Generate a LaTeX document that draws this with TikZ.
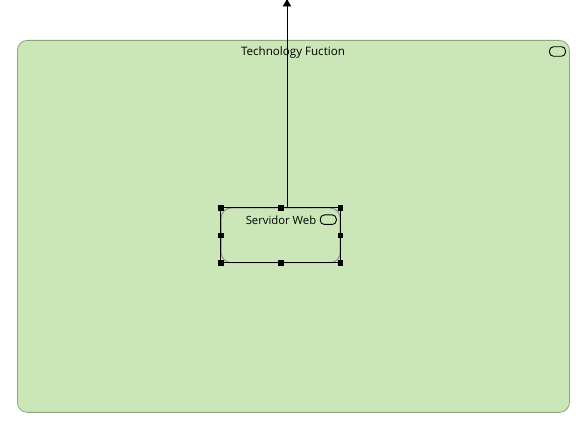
\documentclass[tikz,border=0pt]{standalone}
\usepackage{fontspec}
\setmainfont{Open Sans}
\usetikzlibrary{arrows.meta}
\definecolor{funcfill}{HTML}{CBE6B7}
\definecolor{funcline}{HTML}{8AA67A}
\tikzset{
  funcbox/.style={draw=funcline,fill=funcfill,line width=0.8pt,rounded corners=10pt,minimum width=552pt,minimum height=372pt,inner sep=0pt,anchor=north west},
  innerbox/.style={draw=black!45,fill=funcfill,line width=1pt,rounded corners=10pt,minimum width=119pt,minimum height=54.7pt,inner sep=0pt,anchor=north west},
  selframe/.style={minimum width=119pt,minimum height=54.7pt,inner sep=0pt,anchor=north west},
  handle/.style={draw=black,fill=black,minimum size=4.6pt,inner sep=0pt},
  pill/.style={draw=black,line width=0.9pt,rounded corners=4pt,minimum width=16pt,minimum height=9.5pt,inner sep=0pt},
  lbl/.style={font=\fontsize{11.6pt}{13pt}\selectfont,inner sep=0pt,text=black}
}
\begin{document}
\begin{tikzpicture}[x=1pt,y=-1pt]
\useasboundingbox (0,0) rectangle (576,435);
\fill[white] (0,0) rectangle (576,435);
\node[funcbox] (func) at (17,40) {};
\node[lbl] (functext) at (293,52.8) {Technology Fuction};
\node[pill] (funcpill) at (557.5,51.5) {};
\node[innerbox] (srv) at (220.7,207.5) {};
\node[lbl,font=\fontsize{11.3pt}{13pt}\selectfont] (srvtext) at (281,220.2) {Servidor Web};
\node[pill] (srvpill) at (328.3,219.7) {};
\node[selframe] (sel) at (220.7,207.5) {};
\draw[black,line width=1.1pt] (sel.north west) -- (sel.north east) -- (sel.south east) -- (sel.south west) -- cycle;
\foreach \n/\a in {h1/north west,h2/north,h3/north east,h4/west,h5/east,h6/south west,h7/south,h8/south east}
  \node[handle] (\n) at (sel.\a) {};
\coordinate (top) at (287,-2);
\coordinate (start) at (287,207.5);
\draw[line width=0.9pt,-{Latex[length=8.5pt,width=9pt]}] (start) -- (top);
\end{tikzpicture}
\end{document}
